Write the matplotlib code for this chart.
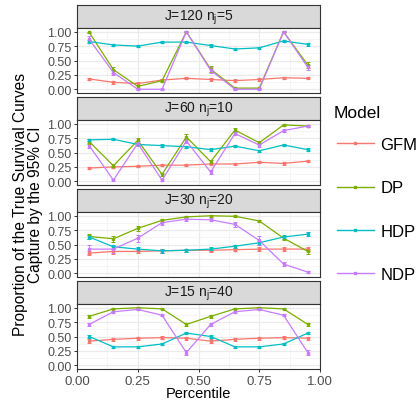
import matplotlib
matplotlib.use("Agg")
import matplotlib.pyplot as plt
from matplotlib.lines import Line2D
import numpy as np

plt.rcParams['font.family'] = ['Liberation Sans', 'DejaVu Sans']

percentile = [0.05, 0.15, 0.25, 0.35, 0.45, 0.55, 0.65, 0.75, 0.85, 0.95]
models = ["GFM", "DP", "HDP", "NDP"]
colors = {"GFM": "#F8766D", "DP": "#7CAE00", "HDP": "#00BFC4", "NDP": "#C77CFF"}
panel_titles = ["J=120 n$_\\mathregular{j}$=5", "J=60 n$_\\mathregular{j}$=10",
                "J=30 n$_\\mathregular{j}$=20", "J=15 n$_\\mathregular{j}$=40"]

# panel 1: J=120 nj=5
p1_GFM = [0.18, 0.12, 0.10, 0.16, 0.19, 0.17, 0.15, 0.17, 0.20, 0.19]
p1_DP = [0.99, 0.34, 0.05, 0.15, 1.00, 0.35, 0.02, 0.02, 1.00, 0.42]
p1_HDP = [0.83, 0.77, 0.75, 0.82, 0.82, 0.76, 0.70, 0.72, 0.84, 0.78]
p1_NDP = [0.87, 0.29, 0.00, 0.00, 1.00, 0.33, 0.00, 0.00, 1.00, 0.38]
p1_GFM_err = [0.02] * 10
p1_DP_err = [0.01, 0.05, 0.02, 0.02, 0.01, 0.05, 0.01, 0.01, 0.01, 0.05]
p1_HDP_err = [0.02] * 10
p1_NDP_err = [0.05, 0.05, 0.01, 0.01, 0.01, 0.05, 0.01, 0.01, 0.01, 0.05]

# panel 2: J=60 nj=10
p2_GFM = [0.23, 0.25, 0.26, 0.28, 0.28, 0.30, 0.30, 0.33, 0.31, 0.35]
p2_DP = [0.69, 0.27, 0.71, 0.12, 0.77, 0.34, 0.89, 0.67, 0.98, 0.96]
p2_HDP = [0.72, 0.73, 0.64, 0.62, 0.60, 0.55, 0.61, 0.53, 0.63, 0.55]
p2_NDP = [0.62, 0.02, 0.66, 0.02, 0.70, 0.16, 0.83, 0.63, 0.88, 0.96]
p2_GFM_err = [0.02] * 10
p2_DP_err = [0.05, 0.03, 0.05, 0.03, 0.05, 0.03, 0.03, 0.03, 0.02, 0.02]
p2_HDP_err = [0.02] * 10
p2_NDP_err = [0.04, 0.02, 0.04, 0.02, 0.04, 0.03, 0.03, 0.03, 0.03, 0.02]

# panel 3: J=30 nj=20
p3_GFM = [0.35, 0.38, 0.38, 0.39, 0.40, 0.40, 0.41, 0.42, 0.42, 0.42]
p3_DP = [0.64, 0.60, 0.78, 0.92, 0.98, 1.00, 0.99, 0.91, 0.61, 0.38]
p3_HDP = [0.63, 0.46, 0.42, 0.39, 0.40, 0.42, 0.47, 0.53, 0.63, 0.68]
p3_NDP = [0.42, 0.42, 0.61, 0.88, 0.94, 0.93, 0.85, 0.57, 0.16, 0.02]
p3_GFM_err = [0.04, 0.04, 0.03, 0.03, 0.03, 0.03, 0.03, 0.03, 0.03, 0.04]
p3_DP_err = [0.05, 0.05, 0.04, 0.03, 0.02, 0.02, 0.02, 0.02, 0.04, 0.04]
p3_HDP_err = [0.04, 0.04, 0.03, 0.03, 0.03, 0.03, 0.03, 0.03, 0.03, 0.03]
p3_NDP_err = [0.08, 0.06, 0.06, 0.04, 0.03, 0.03, 0.04, 0.07, 0.04, 0.02]

# panel 4: J=15 nj=40
p4_GFM = [0.42, 0.45, 0.47, 0.48, 0.47, 0.42, 0.45, 0.47, 0.48, 0.47]
p4_DP = [0.85, 0.98, 1.00, 0.98, 0.71, 0.85, 0.98, 1.00, 0.98, 0.71]
p4_HDP = [0.50, 0.32, 0.32, 0.37, 0.56, 0.50, 0.32, 0.32, 0.37, 0.56]
p4_NDP = [0.71, 0.93, 0.97, 0.87, 0.22, 0.71, 0.93, 0.97, 0.87, 0.22]
p4_GFM_err = [0.03] * 10
p4_DP_err = [0.02, 0.01, 0.01, 0.01, 0.03, 0.02, 0.01, 0.01, 0.01, 0.03]
p4_HDP_err = [0.02] * 10
p4_NDP_err = [0.03, 0.02, 0.01, 0.02, 0.04, 0.03, 0.02, 0.01, 0.02, 0.04]

panels = [
    {"GFM": (p1_GFM, p1_GFM_err), "DP": (p1_DP, p1_DP_err), "HDP": (p1_HDP, p1_HDP_err), "NDP": (p1_NDP, p1_NDP_err)},
    {"GFM": (p2_GFM, p2_GFM_err), "DP": (p2_DP, p2_DP_err), "HDP": (p2_HDP, p2_HDP_err), "NDP": (p2_NDP, p2_NDP_err)},
    {"GFM": (p3_GFM, p3_GFM_err), "DP": (p3_DP, p3_DP_err), "HDP": (p3_HDP, p3_HDP_err), "NDP": (p3_NDP, p3_NDP_err)},
    {"GFM": (p4_GFM, p4_GFM_err), "DP": (p4_DP, p4_DP_err), "HDP": (p4_HDP, p4_HDP_err), "NDP": (p4_NDP, p4_NDP_err)},
]

W, H = 420, 402
fig = plt.figure(figsize=(W / 100, H / 100), dpi=100)

left_px, right_px = 77, 320
strip_tops = [6, 98, 190, 282]
strip_h = 23
plot_h = 65
grey20 = "#333333"
grey30 = "#4D4D4D"

for i, (data, title) in enumerate(zip(panels, panel_titles)):
    top = strip_tops[i]
    # strip
    sax = fig.add_axes([left_px / W, 1 - (top + strip_h) / H, (right_px - left_px) / W, strip_h / H])
    sax.set_facecolor("#D9D9D9")
    sax.set_xticks([]); sax.set_yticks([])
    for s in sax.spines.values():
        s.set_color(grey20); s.set_linewidth(0.8)
    sax.text(0.5, 0.5, title, ha="center", va="center", fontsize=10, color="#1A1A1A",
             transform=sax.transAxes)
    # plot
    ax = fig.add_axes([left_px / W, 1 - (top + strip_h + plot_h) / H, (right_px - left_px) / W, plot_h / H])
    ax.set_xlim(0, 1)
    ax.set_ylim(-0.065, 1.065)
    ticks = [0, 0.25, 0.5, 0.75, 1.0]
    ax.set_xticks(ticks)
    ax.set_yticks(ticks)
    ax.set_xticks([0.125, 0.375, 0.625, 0.875], minor=True)
    ax.set_yticks([0.125, 0.375, 0.625, 0.875], minor=True)
    ax.grid(True, which="major", color="#EBEBEB", linewidth=0.9)
    ax.grid(True, which="minor", color="#F2F2F2", linewidth=0.5)
    ax.set_axisbelow(True)
    ax.tick_params(which="minor", length=0)
    ax.tick_params(which="major", length=2.5, width=0.7, color=grey20, labelsize=9, labelcolor=grey30, pad=1.5)
    ax.set_yticklabels(["0.00", "0.25", "0.50", "0.75", "1.00"])
    if i < 3:
        ax.set_xticklabels([])
        ax.tick_params(axis="x", length=0)
    else:
        ax.set_xticklabels(["0.00", "0.25", "0.50", "0.75", "1.00"])
        ax.tick_params(axis="x", labelsize=9.5)
    for s in ax.spines.values():
        s.set_color(grey20); s.set_linewidth(0.8)
    for m in models:
        vals, errs = data[m]
        c = colors[m]
        ax.errorbar(percentile, vals, yerr=errs, color=c, linewidth=0.9, elinewidth=0.7,
                    capsize=1.5, capthick=0.7, marker="s", markersize=2.0, zorder=3)

fig.text(0.5 * (left_px + right_px) / W, 1 - 394 / H, "Percentile", ha="center", va="center",
         fontsize=10.5, color="black")
fig.text(28 / W, 1 - 205 / H,
         "Proportion of the True Survival Curves\nCapture by the 95% CI",
         rotation=90, ha="center", va="center", fontsize=11.2, linespacing=1.0, multialignment="center")

fig.text(334 / W, 1 - 113 / H, "Model", ha="left", va="center", fontsize=12.5)
handles = [Line2D([0], [0], color=colors[m], linewidth=1.0, marker="s", markersize=1.8) for m in models]
leg = fig.legend(handles, models, loc="upper left", bbox_to_anchor=(337 / W, 1 - 138 / H),
                 frameon=False, fontsize=12, handlelength=2.2, handletextpad=0.4,
                 labelspacing=1.7, borderaxespad=0, borderpad=0)
fig.savefig("out.png", dpi=100)
